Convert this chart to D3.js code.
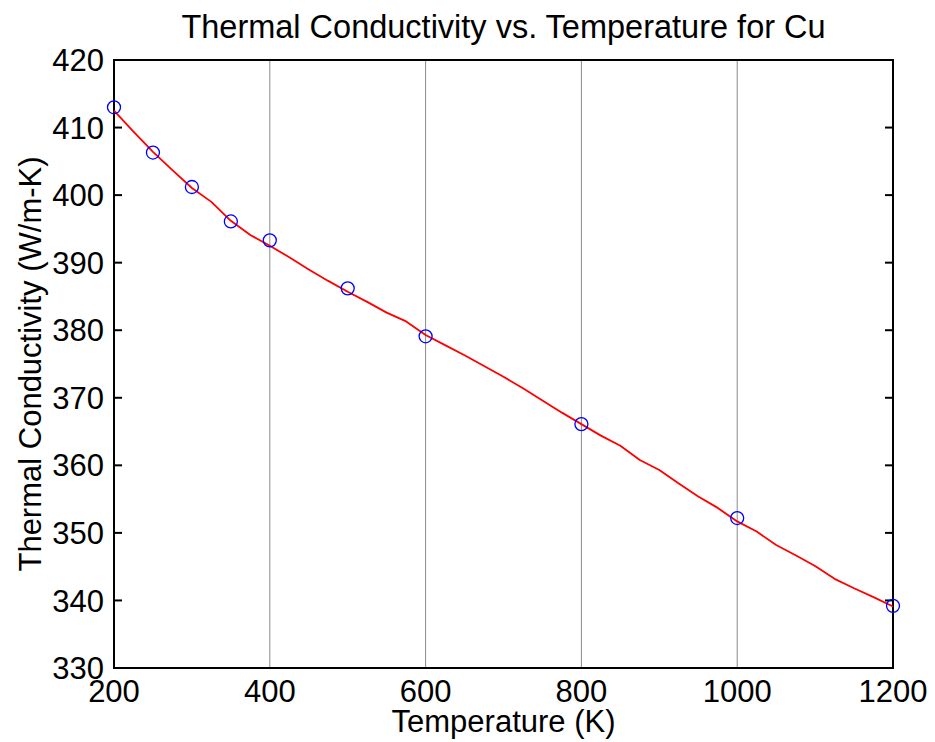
<!DOCTYPE html>
<html>
<head>
<meta charset="utf-8">
<script src="https://cdn.jsdelivr.net/npm/d3@7"></script>
<style>
  html, body { margin: 0; padding: 0; background: #fff; }
  svg { display: block; font-family: "Liberation Sans", Arial, sans-serif; }
</style>
</head>
<body>
<svg id="chart" width="935" height="742"></svg>
<script>
// ---- data ----
const markerTemps = [200, 250, 300, 350, 400, 500, 600, 800, 1000, 1200];
const markerK = [413.0, 406.3, 401.2, 396.1, 393.3, 386.2, 379.1, 366.1, 352.2, 339.2];

const lineTemps = [200, 225, 250, 275, 300, 325, 350, 375, 400, 425, 450, 475, 500, 525, 550, 575,
  600, 625, 650, 675, 700, 725, 750, 775, 800, 825, 850, 875, 900, 925, 950, 975, 1000, 1025,
  1050, 1075, 1100, 1125, 1150, 1175, 1200];
const lineK = [412.5, 409.4, 406.4, 403.7, 401.05, 399.0, 396.2, 394.1, 392.5, 390.8, 389.0, 387.3,
  385.7, 384.2, 382.6, 381.3, 379.3, 377.8, 376.3, 374.7, 373.1, 371.4, 369.6, 367.8, 366.1, 364.4,
  362.9, 360.8, 359.3, 357.3, 355.4, 353.7, 351.7, 350.2, 348.2, 346.7, 345.1, 343.2, 341.8,
  340.5, 339.1];

const xTicks = [200, 400, 600, 800, 1000, 1200];
const yTicks = [330, 340, 350, 360, 370, 380, 390, 400, 410, 420];
const gridX = [400, 600, 800, 1000];

const titleText = "Thermal Conductivity vs. Temperature for Cu";
const xLabel = "Temperature (K)";
const yLabel = "Thermal Conductivity (W/m-K)";

// ---- layout ----
const L = 114, R = 893, T = 60, B = 668;
const svg = d3.select("#chart");
const x = d3.scaleLinear().domain([200, 1200]).range([L, R]);
const y = d3.scaleLinear().domain([330, 420]).range([B, T]);

// grid lines
svg.append("g").selectAll("line").data(gridX).join("line")
  .attr("x1", d => x(d)).attr("x2", d => x(d))
  .attr("y1", T).attr("y2", B)
  .attr("stroke", "#8a8a8a").attr("stroke-width", 1);

// y ticks (inward) left and right
const tickLen = 8;
const yIn = yTicks.filter(d => d !== 330 && d !== 420);
svg.append("g").selectAll("line").data(yIn).join("line")
  .attr("x1", L).attr("x2", L + tickLen)
  .attr("y1", d => y(d)).attr("y2", d => y(d))
  .attr("stroke", "#000").attr("stroke-width", 2);
svg.append("g").selectAll("line").data(yIn).join("line")
  .attr("x1", R).attr("x2", R - tickLen)
  .attr("y1", d => y(d)).attr("y2", d => y(d))
  .attr("stroke", "#000").attr("stroke-width", 2);

// frame
svg.append("rect")
  .attr("x", L).attr("y", T).attr("width", R - L).attr("height", B - T)
  .attr("fill", "none").attr("stroke", "#000").attr("stroke-width", 2);

// red line
const lineData = lineTemps.map((t, i) => [t, lineK[i]]);
svg.append("path")
  .datum(lineData)
  .attr("d", d3.line().x(d => x(d[0])).y(d => y(d[1])))
  .attr("fill", "none").attr("stroke", "#ff0000").attr("stroke-width", 1.8)
  .attr("stroke-linejoin", "round");

// markers
svg.append("g").selectAll("circle").data(markerTemps.map((t, i) => [t, markerK[i]])).join("circle")
  .attr("cx", d => x(d[0])).attr("cy", d => y(d[1])).attr("r", 6.5)
  .attr("fill", "none").attr("stroke", "#0000ff").attr("stroke-width", 1.3);

// tick labels
const fs = 31;
svg.append("g").selectAll("text").data(yTicks).join("text")
  .attr("x", L - 10).attr("y", d => y(d)).attr("dy", "0.36em")
  .attr("text-anchor", "end").attr("font-size", fs).attr("fill", "#000")
  .text(d => d);
svg.append("g").selectAll("text").data(xTicks).join("text")
  .attr("x", d => x(d)).attr("y", 702)
  .attr("text-anchor", "middle").attr("font-size", fs).attr("fill", "#000")
  .text(d => d);

// labels
svg.append("text").attr("x", (L + R) / 2).attr("y", 732)
  .attr("text-anchor", "middle").attr("font-size", fs).text(xLabel);
svg.append("text")
  .attr("transform", `translate(41,${(T + B) / 2}) rotate(-90)`)
  .attr("text-anchor", "middle").attr("font-size", fs).text(yLabel);
svg.append("text").attr("x", (L + R) / 2).attr("y", 38)
  .attr("text-anchor", "middle").attr("font-size", 32.5).text(titleText);
</script>
</body>
</html>
